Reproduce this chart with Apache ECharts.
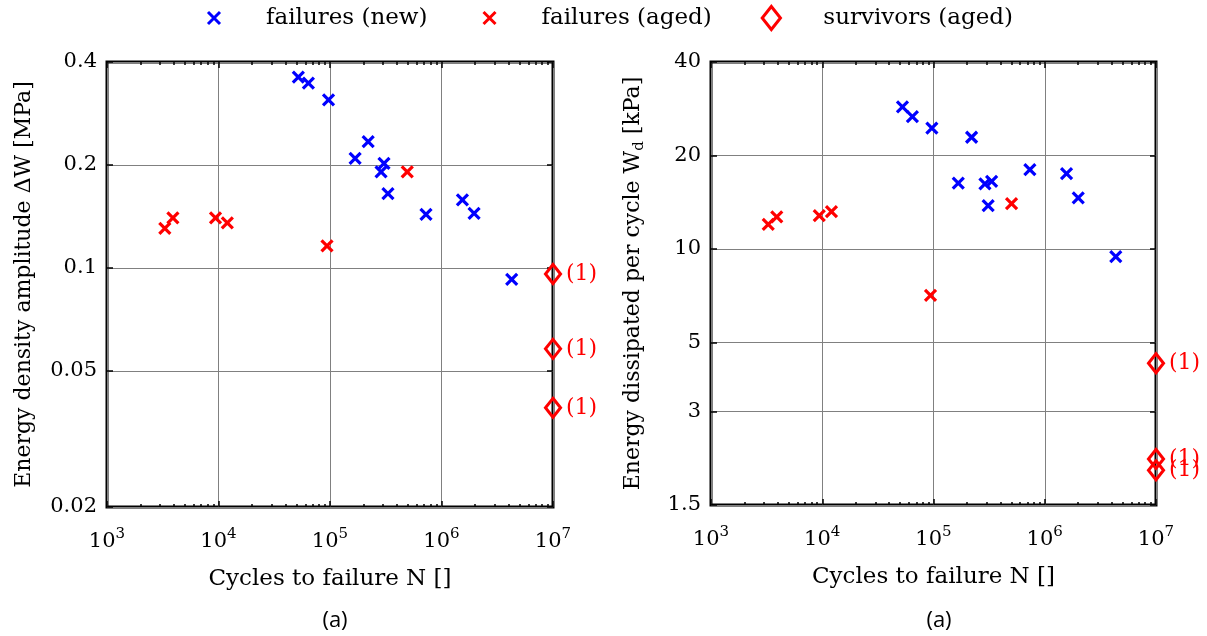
<!DOCTYPE html>
<html><head><meta charset="utf-8">
<script src="https://cdn.jsdelivr.net/npm/echarts@6/dist/echarts.min.js"></script>
<style>html,body{margin:0;padding:0;background:#fff}#c{width:1207px;height:636px}</style>
</head><body><div id="c"></div><script>
// ---- data ----
const legendNames = ['failures (new)', 'failures (aged)', 'survivors (aged)'];
const xTicks = [1e3, 1e4, 1e5, 1e6, 1e7];
const xMinorTicks = [2e3,3e3,4e3,5e3,6e3,7e3,8e3,9e3, 2e4,3e4,4e4,5e4,6e4,7e4,8e4,9e4,
  2e5,3e5,4e5,5e5,6e5,7e5,8e5,9e5, 2e6,3e6,4e6,5e6,6e6,7e6,8e6,9e6];
const yTicksA = [0.02, 0.05, 0.1, 0.2, 0.4];
const yTicksB = [1.5, 3, 5, 10, 20, 40];
const xTitle = 'Cycles to failure N []';
const yTitleA = 'Energy density amplitude ΔW [MPa]';
const yTitleB = 'Energy dissipated per cycle W{sub|d} [kPa]';
const panelLabels = ['(a)', '(a)'];
const survivorLabel = '(1)';

// panel (a) left: energy density amplitude
const newN_A = [5.2e4, 6.4e4, 9.7e4, 1.68e5, 2.2e5, 2.87e5, 3.05e5, 3.31e5, 7.26e5, 1.54e6, 1.96e6, 4.26e6];
const newW_A = [0.361, 0.347, 0.310, 0.209, 0.234, 0.191, 0.202, 0.165, 0.1435, 0.158, 0.1444, 0.0926];
const agedN_A = [3.3e3, 3.9e3, 9.4e3, 1.2e4, 9.4e4, 4.93e5];
const agedW_A = [0.1305, 0.140, 0.140, 0.1355, 0.116, 0.191];
const survN_A = [1e7, 1e7, 1e7];
const survW_A = [0.096, 0.058, 0.039];

// panel right: energy dissipated per cycle
const newN_B = [5.26e4, 6.46e4, 9.67e4, 1.67e5, 2.2e5, 2.9e5, 3.1e5, 3.33e5, 7.35e5, 1.57e6, 2.0e6, 4.35e6];
const newW_B = [28.7, 26.7, 24.5, 16.3, 22.9, 16.2, 13.8, 16.5, 18.0, 17.5, 14.6, 9.46];
const agedN_B = [3.27e3, 3.9e3, 9.4e3, 1.21e4, 9.4e4, 5.03e5];
const agedW_B = [12.0, 12.7, 12.8, 13.2, 7.09, 14.0];
const survN_B = [1e7, 1e7, 1e7];
const survW_B = [4.29, 2.11, 1.94];

// ---- styling / building ----
const SERIF = 'DejaVu Serif';
const crossPath = 'path://M0,0L10,10M0,10L10,0';
const legendCrossPath = 'path://M0,0M23,23M5.5,5.5L17.5,17.5M5.5,17.5L17.5,5.5';
const diamondPath = 'path://M5,0L10,6.3L5,12.6L0,6.3Z';
const zip = (a, b) => a.map((v, i) => [v, b[i]]);

function xAxes(grid) {
  const base = { type: 'log', logBase: 10, min: 1e3, max: 1e7, gridIndex: grid,
    axisLine: { show: false }, axisLabel: { show: false }, splitLine: { show: false } };
  return [
    Object.assign({}, base, {
      position: 'bottom',
      name: xTitle, nameLocation: 'middle', nameGap: 61,
      nameTextStyle: { fontFamily: SERIF, fontSize: 23, color: '#000' },
      axisTick: { show: true, inside: true, length: 6, customValues: xTicks, lineStyle: { color: '#000', width: 1.5 } },
      axisLabel: { show: true, customValues: xTicks, margin: 20, color: '#000',
        formatter: v => '{b|10}{s|' + Math.round(Math.log10(v)) + '}',
        rich: { b: { fontFamily: SERIF, fontSize: 21, color: '#000' },
                s: { fontFamily: SERIF, fontSize: 15, color: '#000', verticalAlign: 'bottom', padding: [0, 0, 14, 0] } } },
      splitLine: { show: true, lineStyle: { color: '#808080', width: 1 } }
    }),
    Object.assign({}, base, { position: 'top',
      axisTick: { show: true, inside: true, length: 6, customValues: xTicks, lineStyle: { color: '#000', width: 1.5 } } }),
    Object.assign({}, base, { position: 'bottom',
      axisTick: { show: true, inside: true, length: 3, customValues: xMinorTicks, lineStyle: { color: '#000', width: 1.5 } } }),
    Object.assign({}, base, { position: 'top',
      axisTick: { show: true, inside: true, length: 3, customValues: xMinorTicks, lineStyle: { color: '#000', width: 1.5 } } })
  ];
}

function yAxes(grid, ticks, title, gap) {
  const base = { type: 'log', logBase: 10, min: ticks[0], max: ticks[ticks.length - 1], gridIndex: grid,
    axisLine: { show: false }, axisLabel: { show: false }, splitLine: { show: false } };
  return [
    Object.assign({}, base, {
      position: 'left',
      name: title, nameLocation: 'middle', nameGap: gap, nameRotate: 90,
      nameTextStyle: { fontFamily: SERIF, fontSize: 22, color: '#000',
        rich: { sub: { fontFamily: SERIF, fontSize: 15, color: '#000', verticalAlign: 'top', padding: [12, 0, 0, 0] } } },
      axisTick: { show: true, inside: true, length: 6, customValues: ticks, lineStyle: { color: '#000', width: 1.5 } },
      axisLabel: { show: true, customValues: ticks, margin: 10, fontFamily: SERIF, fontSize: 21, color: '#000',
        formatter: v => String(+Number(v).toPrecision(3)) },
      splitLine: { show: true, lineStyle: { color: '#808080', width: 1 } }
    }),
    Object.assign({}, base, { position: 'right',
      axisTick: { show: true, inside: true, length: 6, customValues: ticks, lineStyle: { color: '#000', width: 1.5 } } })
  ];
}

function seriesFor(grid, nN, wN, nA, wA, nS, wS) {
  const xi = grid * 4, yi = grid * 2;
  return [
    { name: legendNames[0], type: 'scatter', xAxisIndex: xi, yAxisIndex: yi, clip: false,
      symbol: crossPath, symbolSize: 11, data: zip(nN, wN),
      itemStyle: { color: '#0000ff', borderColor: '#0000ff', borderWidth: 3.2, opacity: 1 } },
    { name: legendNames[1], type: 'scatter', xAxisIndex: xi, yAxisIndex: yi, clip: false,
      symbol: crossPath, symbolSize: 11, data: zip(nA, wA),
      itemStyle: { color: '#ff0000', borderColor: '#ff0000', borderWidth: 3.2, opacity: 1 } },
    { name: legendNames[2], type: 'scatter', xAxisIndex: xi, yAxisIndex: yi, clip: false, z: 5,
      symbol: diamondPath, symbolKeepAspect: true, symbolSize: 19, data: zip(nS, wS),
      itemStyle: { color: 'rgba(0,0,0,0)', borderColor: '#ff0000', borderWidth: 3, opacity: 1 },
      label: { show: true, position: 'right', distance: 4, formatter: survivorLabel,
        fontFamily: SERIF, fontSize: 22, color: '#ff0000' } }
  ];
}

const chart = echarts.init(document.getElementById('c'), null, { renderer: 'canvas' });
chart.setOption({
  animation: false,
  backgroundColor: '#fff',
  textStyle: { fontFamily: SERIF },
  title: [
    { text: panelLabels[0], left: 330, top: 605, textAlign: 'center',
      textStyle: { fontFamily: 'Open Sans', fontSize: 22, fontWeight: 'normal', color: '#000' } },
    { text: panelLabels[1], left: 934, top: 605, textAlign: 'center',
      textStyle: { fontFamily: 'Open Sans', fontSize: 22, fontWeight: 'normal', color: '#000' } }
  ],
  legend: {
    data: [
      { name: legendNames[0], icon: legendCrossPath },
      { name: legendNames[1], icon: legendCrossPath },
      { name: legendNames[2], icon: diamondPath }
    ],
    left: 196, top: 0, itemWidth: 94, itemHeight: 23, itemGap: 49,
    itemStyle: { borderWidth: 3 },
    textStyle: { fontFamily: SERIF, fontSize: 23, color: '#000' }
  },
  grid: [
    { left: 107, top: 62, width: 446, height: 445, show: true, borderColor: '#000', borderWidth: 3 },
    { left: 711, top: 62, width: 445, height: 443, show: true, borderColor: '#000', borderWidth: 3 }
  ],
  xAxis: [...xAxes(0), ...xAxes(1)],
  yAxis: [...yAxes(0, yTicksA, yTitleA, 72), ...yAxes(1, yTicksB, yTitleB, 64)],
  series: [
    ...seriesFor(0, newN_A, newW_A, agedN_A, agedW_A, survN_A, survW_A),
    ...seriesFor(1, newN_B, newW_B, agedN_B, agedW_B, survN_B, survW_B)
  ]
});
</script></body></html>
